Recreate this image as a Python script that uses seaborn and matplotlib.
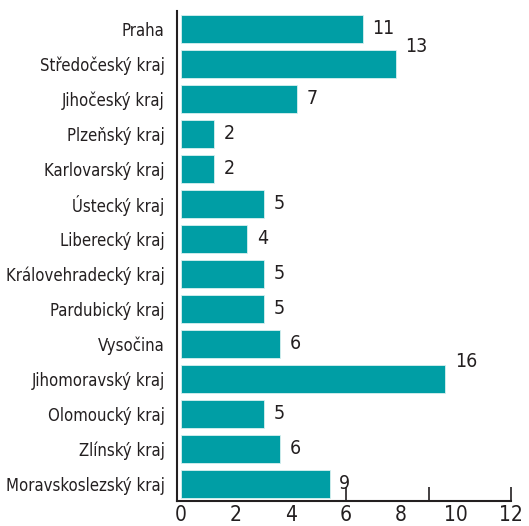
import numpy as np
import matplotlib
matplotlib.use('Agg')
import matplotlib.pyplot as plt
import seaborn as sns

# data
regions = ['Praha', 'Středočeský kraj', 'Jihočeský kraj', 'Plzeňský kraj', 'Karlovarský kraj',
           'Ústecký kraj', 'Liberecký kraj', 'Královehradecký kraj', 'Pardubický kraj', 'Vysočina',
           'Jihomoravský kraj', 'Olomoucký kraj', 'Zlínský kraj', 'Moravskoslezský kraj']
values = [11, 13, 7, 2, 2, 5, 4, 5, 5, 6, 16, 5, 6, 9]
tick_labels = [0, 2, 4, 6, 8, 10, 12]   # popisky osy, jak jsou v originale
tick_marks = [10, 15, 20]
raised = ['Středočeský kraj', 'Jihomoravský kraj']  # popisky posunute nahoru

sns.set_style('white')
plt.rcParams['font.family'] = ['DejaVu Sans']
plt.rcParams['font.stretch'] = 'condensed'
txt = '#231f20'

fig = plt.figure(figsize=(5.29, 5.26), dpi=100)
ax = fig.add_axes([0.3346, 0.0475, 0.966 - 0.3346, 0.979 - 0.0475])

sns.barplot(x=values, y=regions, color='#009ea5', saturation=1, width=0.8,
            edgecolor='#d8f0f0', linewidth=0.6, ax=ax)

labels = ax.bar_label(ax.containers[0], padding=7, fontsize=14, color=txt)
for reg, t in zip(regions, labels):
    if reg in raised:
        t.xyann = (t.xyann[0], t.xyann[1] + 12)

ax.set_xlim(-0.25, 20)
ax.set_ylim(13.5, -0.5)
# znacky osy x zvlast od popisku
ax.xaxis.remove_overlapping_locs = False
ax.set_xticks(tick_marks)
ax.set_xticklabels([])
ax.set_xticks([v / 12 * 20 for v in tick_labels], minor=True)
ax.set_xticklabels([str(v) for v in tick_labels], minor=True, fontsize=15, color=txt)
ax.tick_params(axis='x', which='major', direction='in', length=10, width=1.2, color=txt, bottom=True)
ax.tick_params(axis='x', which='minor', length=0, pad=3)
ax.tick_params(axis='y', length=0, labelsize=12, labelcolor=txt, pad=9)

for s in ['top', 'right']:
    ax.spines[s].set_visible(False)
for s in ['left', 'bottom']:
    ax.spines[s].set_color(txt)
    ax.spines[s].set_linewidth(1.5)
ax.set_xlabel('')
ax.set_ylabel('')

fig.savefig('out.png', dpi=100)
